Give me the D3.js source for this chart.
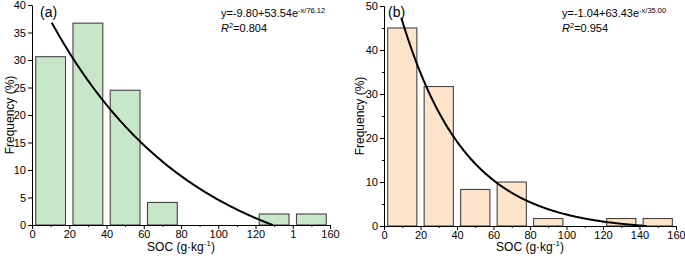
<!DOCTYPE html>
<html>
<head>
<meta charset="utf-8">
<script src="https://cdn.jsdelivr.net/npm/d3@7"></script>
<style>
  body { margin: 0; background: #fff; }
  svg { display: block; font-family: "Liberation Sans", Arial, sans-serif; }
  .axis path, .axis line { stroke: #000; stroke-width: 1; }
  .axis text { font-size: 11px; fill: #000; font-family: "Liberation Sans", Arial, sans-serif; }
</style>
</head>
<body>
<div id="chart"></div>
<script>
// Données
const binStarts = [0, 20, 40, 60, 80, 100, 120, 140];
const freqA = [30.6, 36.7, 24.5, 4.1, 0, 0, 2.0, 2.0];
const freqB = [45.0, 31.7, 8.3, 10.0, 1.7, 0, 1.7, 1.7];

const xTicks = [0, 20, 40, 60, 80, 100, 120, 140, 160];
const xLabelsA = ["0", "20", "40", "60", "80", "100", "120", "1", "160"];
const xLabelsB = ["0", "20", "40", "60", "80", "100", "120", "140", "160"];
const yTicksA = [0, 5, 10, 15, 20, 25, 30, 35, 40];
const yTicksB = [0, 10, 20, 30, 40, 50];

// Paramètres des ajustements : y = y0 + A * exp(-x / t)
const fitA = [-9.80, 53.54, 76.12];
const fitB = [-1.04, 63.43, 35.00];
const fitTextA = ["y=-9.80+53.54e", "-x/76.12", "0.804"];
const fitTextB = ["y=-1.04+63.43e", "-x/35.00", "0.954"];

const W = 685, H = 258;
const svg = d3.select("#chart").append("svg")
  .attr("width", W).attr("height", H);

function panel(cfg) {
  const x = d3.scaleLinear().domain([0, 160]).range(cfg.xRange);
  const y = d3.scaleLinear().domain([0, cfg.yMax]).range(cfg.yRange);
  const g = svg.append("g");

  // Barres
  const bars = binStarts.map((b, i) => ({ b: b, f: cfg.freq[i] })).filter(d => d.f > 0);
  g.selectAll("rect.bar").data(bars).enter().append("rect")
    .attr("class", "bar")
    .attr("x", d => x(d.b + 2))
    .attr("width", d => x(d.b + 18) - x(d.b + 2))
    .attr("y", d => y(d.f))
    .attr("height", d => y(0) - y(d.f))
    .attr("fill", cfg.fill)
    .attr("stroke", "#444")
    .attr("stroke-width", 1.1);

  // Courbe d'ajustement
  const p = cfg.fit;
  const xEnd = -p[2] * Math.log(-p[0] / p[1]);
  const pts = d3.range(cfg.xStart, xEnd, 0.5).concat([xEnd])
    .map(v => [v, p[0] + p[1] * Math.exp(-v / p[2])]);
  g.append("path")
    .datum(pts)
    .attr("fill", "none")
    .attr("stroke", "#000")
    .attr("stroke-width", 2)
    .attr("d", d3.line().x(d => x(d[0])).y(d => y(d[1])));

  // Axe X (majeures + mineures)
  g.append("g").attr("class", "axis")
    .attr("transform", "translate(0," + y(0) + ")")
    .call(d3.axisBottom(x).tickValues(d3.range(10, 160, 20)).tickSize(2).tickFormat("").tickSizeOuter(0));
  g.append("g").attr("class", "axis")
    .attr("transform", "translate(0," + y(0) + ")")
    .call(d3.axisBottom(x).tickValues(xTicks).tickSize(4).tickPadding(1)
      .tickFormat((d, i) => cfg.xLabels[i]).tickSizeOuter(0));

  // Axe Y
  if (cfg.yMinor) {
    g.append("g").attr("class", "axis")
      .attr("transform", "translate(" + x(0) + ",0)")
      .call(d3.axisLeft(y).tickValues(cfg.yMinor).tickSize(2).tickFormat("").tickSizeOuter(0));
  }
  g.append("g").attr("class", "axis")
    .attr("transform", "translate(" + x(0) + ",0)")
    .call(d3.axisLeft(y).tickValues(cfg.yTicks).tickSize(4).tickPadding(2).tickSizeOuter(0));

  // Titres des axes
  const xc = (cfg.xRange[0] + cfg.xRange[1]) / 2;
  const xt = g.append("text")
    .attr("x", xc).attr("y", 251)
    .attr("text-anchor", "middle")
    .style("font-size", "12px");
  xt.append("tspan").text("SOC (g·kg");
  xt.append("tspan").attr("dy", -5).style("font-size", "8px").text("-1");
  xt.append("tspan").attr("dy", 5).text(")");

  g.append("text")
    .attr("transform", "translate(" + cfg.yLabelX + "," + ((cfg.yRange[0] + cfg.yRange[1]) / 2) + ") rotate(-90)")
    .attr("text-anchor", "middle")
    .style("font-size", "12px")
    .text("Frequency (%)");

  // Étiquette du panneau
  g.append("text")
    .attr("x", cfg.tagX).attr("y", 17)
    .style("font-size", "14px")
    .text(cfg.tag);

  // Équation et R²
  const eq = g.append("text")
    .attr("x", cfg.eqX).attr("y", 17)
    .style("font-size", "11px");
  eq.append("tspan").text(cfg.fitText[0]);
  eq.append("tspan").attr("dy", -4).style("font-size", "7.5px").text(cfg.fitText[1]);

  const r2 = g.append("text")
    .attr("x", cfg.eqX).attr("y", 32)
    .style("font-size", "11px");
  r2.append("tspan").style("font-style", "italic").text("R");
  r2.append("tspan").attr("dy", -4).style("font-size", "7.5px").text("2");
  r2.append("tspan").attr("dy", 4).text("=" + cfg.fitText[2]);
}

panel({
  xRange: [32, 330], yRange: [225, 5], yMax: 40,
  freq: freqA, fill: "#c8e6c8",
  fit: fitA, xStart: 10.6,
  xLabels: xLabelsA, yTicks: yTicksA, yMinor: null,
  yLabelX: 14, tag: "(a)", tagX: 40,
  eqX: 221, fitText: fitTextA
});

panel({
  xRange: [384, 676], yRange: [226, 6], yMax: 50,
  freq: freqB, fill: "#fde4ca",
  fit: fitB, xStart: 9.5,
  xLabels: xLabelsB, yTicks: yTicksB, yMinor: d3.range(5, 50, 10),
  yLabelX: 364, tag: "(b)", tagX: 388,
  eqX: 562, fitText: fitTextB
});
</script>
</body>
</html>
